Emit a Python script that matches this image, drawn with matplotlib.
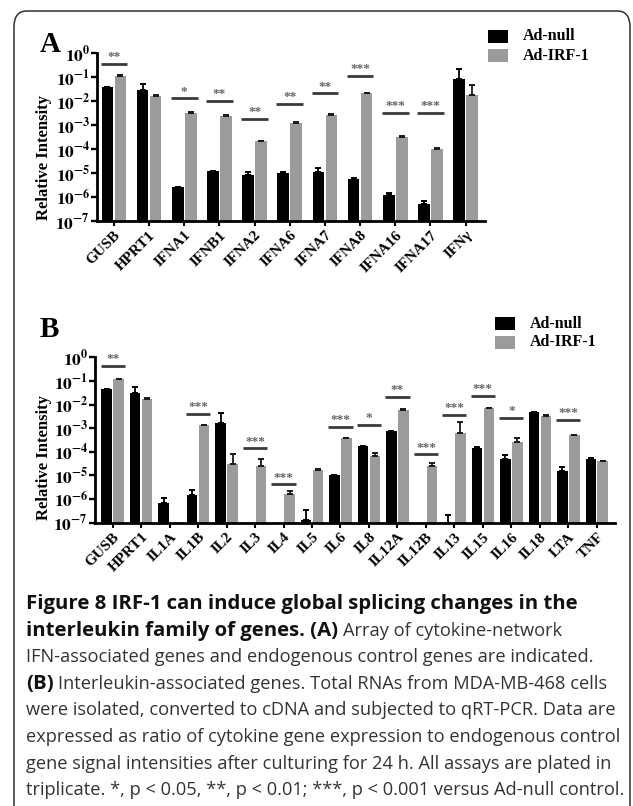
import numpy as np
import matplotlib
matplotlib.use("Agg")
import matplotlib.pyplot as plt
from matplotlib.patches import Rectangle, FancyBboxPatch

# ---------------- data ----------------
genes_a = ["GUSB", "HPRT1", "IFNA1", "IFNB1", "IFNA2", "IFNA6", "IFNA7",
           "IFNA8", "IFNA16", "IFNA17", "IFNγ"]
null_a = [0.038, 0.029, 2.6e-6, 1.2e-5, 8e-6, 1.0e-5, 1.1e-5, 5.6e-6, 1.2e-6, 5e-7, 0.083]
null_a_err = [0.002, 0.02, 1e-7, 7e-7, 3e-6, 5e-7, 5e-6, 3e-7, 3e-7, 2e-7, 0.13]
irf_a = [0.11, 0.016, 3.2e-3, 2.4e-3, 2.1e-4, 1.2e-3, 2.6e-3, 0.021, 3.2e-4, 1.0e-4, 0.018]
irf_a_err = [0.008, 0.001, 2e-4, 2e-4, 1e-5, 1e-4, 3e-4, 1.5e-3, 2e-5, 5e-6, 0.029]
sig_a_idx = [0, 2, 3, 4, 5, 6, 7, 8, 9]
sig_a_lab = ["**", "*", "**", "**", "**", "**", "***", "***", "***"]
sig_a_h = [0.35, 0.013, 0.01, 1.8e-3, 7.4e-3, 0.021, 0.11, 3.2e-3, 3.2e-3]

genes_b = ["GUSB", "HPRT1", "IL1A", "IL1B", "IL2", "IL3", "IL4", "IL5", "IL6", "IL8",
           "IL12A", "IL12B", "IL13", "IL15", "IL16", "IL18", "LTA", "TNF"]
nan = np.nan
null_b = [0.044, 0.032, 6.9e-7, 1.45e-6, 1.6e-3, nan, nan, 1.3e-7, 1.0e-5, 1.7e-4,
          7.5e-4, nan, 1.0e-7, 1.5e-4, 5.1e-5, 4.7e-3, 1.6e-5, 5.1e-5]
null_b_err = [0.002, 0.025, 3.8e-7, 9.5e-7, 2.9e-3, nan, nan, 2.3e-7, 5e-7, 5e-6,
              3e-5, nan, 1.2e-7, 5e-6, 2.1e-5, 1e-4, 6e-6, 2e-6]
irf_b = [0.12, 0.018, nan, 1.35e-3, 3.0e-5, 2.6e-5, 1.6e-6, 1.7e-5, 3.7e-4, 6.8e-5,
         5.9e-3, 2.6e-5, 6.4e-4, 6.9e-3, 2.7e-4, 3.4e-3, 5.1e-4, 3.9e-5]
irf_b_err = [0.005, 0.001, nan, 5e-5, 4.9e-5, 2.6e-5, 6e-7, 1e-6, 2e-5, 1.7e-5,
             3e-4, 8e-6, 1.2e-3, 3e-4, 1.2e-4, 1e-4, 2e-5, 2e-6]
sig_b_idx = [0, 3, 5, 6, 8, 9, 10, 11, 12, 13, 14, 16]
sig_b_lab = ["**", "***", "***", "***", "***", "*", "**", "***", "***", "***", "*", "***"]
sig_b_h = [0.43, 4e-3, 1.4e-4, 4.2e-6, 1.15e-3, 1.35e-3, 0.021, 7.9e-5, 3.7e-3, 0.023,
           2.75e-3, 2.2e-3]

series_names = ["Ad-null", "Ad-IRF-1"]
ytick_vals = [1e0, 1e-1, 1e-2, 1e-3, 1e-4, 1e-5, 1e-6, 1e-7]
ytick_labels = [r"$\mathbf{10^{0}}$", r"$\mathbf{10^{-1}}$", r"$\mathbf{10^{-2}}$",
                r"$\mathbf{10^{-3}}$", r"$\mathbf{10^{-4}}$", r"$\mathbf{10^{-5}}$",
                r"$\mathbf{10^{-6}}$", r"$\mathbf{10^{-7}}$"]

caption = [
    [("Figure 8 IRF-1 can induce global splicing changes in the", "bold")],
    [("interleukin family of genes. (A)", "bold"), ("Array of cytokine-network", "normal")],
    [("IFN-associated genes and endogenous control genes are indicated.", "normal")],
    [("(B)", "bold"), ("Interleukin-associated genes. Total RNAs from MDA-MB-468 cells", "normal")],
    [("were isolated, converted to cDNA and subjected to qRT-PCR. Data are", "normal")],
    [("expressed as ratio of cytokine gene expression to endogenous control", "normal")],
    [("gene signal intensities after culturing for 24 h. All assays are plated in", "normal")],
    [("triplicate. *, p < 0.05, **, p < 0.01; ***, p < 0.001 versus Ad-null control.", "normal")],
]

# ---------------- style ----------------
W, H = 633, 806
plt.rcParams["mathtext.fontset"] = "stix"
SERIF = ["Liberation Serif", "DejaVu Serif"]
BLACK = "#000000"
GRAY = "#9b9b9b"
SIGC = "#3a3a3a"

fig = plt.figure(figsize=(W / 100, H / 100), dpi=100)


def fx(px):
    return px / W


def fy(py):
    return 1 - py / H


def make_panel(left, right, top, bottom, genes, nv, ne, iv, ie, sidx, slab, sh,
               xlim, off, bw, letter, letter_xy, leg_xy, ylabel_y):
    ax = fig.add_axes([fx(left), fy(bottom), fx(right - left), (bottom - top) / H])
    ax.set_yscale("log")
    x = np.arange(len(genes))
    nv = np.array(nv, float); ne = np.array(ne, float)
    iv = np.array(iv, float); ie = np.array(ie, float)
    ax.bar(x - off, np.nan_to_num(nv, nan=1e-9), width=bw, bottom=1e-9, color=BLACK, zorder=2)
    ax.bar(x + off, np.nan_to_num(iv, nan=1e-9), width=bw, bottom=1e-9, color=GRAY, zorder=2)
    m = ~np.isnan(nv)
    ax.errorbar(x[m] - off, nv[m], yerr=[np.zeros(m.sum()), ne[m]], fmt="none",
                ecolor=BLACK, elinewidth=1.3, capsize=2.2, capthick=1.4, zorder=3)
    m = ~np.isnan(iv)
    ax.errorbar(x[m] + off, iv[m], yerr=[np.zeros(m.sum()), ie[m]], fmt="none",
                ecolor="#1a1a1a", elinewidth=1.3, capsize=2.2, capthick=1.4, zorder=3)
    for i, lab, h in zip(sidx, slab, sh):
        ax.plot([i - off - bw / 2 - 0.03, i + off + bw / 2 + 0.03], [h, h],
                color=SIGC, lw=2.0, solid_capstyle="butt", clip_on=False, zorder=4)
        ax.annotate(lab, xy=(i, h), xytext=(0, 0.5), textcoords="offset points",
                    ha="center", va="bottom", fontsize=9.5, color="#666666",
                    family=SERIF, fontweight="bold", annotation_clip=False)
    ax.set_ylim(1e-7, 1e0)
    ax.set_xlim(*xlim)
    ax.set_yticks(ytick_vals)
    ax.set_yticklabels(ytick_labels, fontsize=12.5)
    ax.yaxis.set_minor_locator(matplotlib.ticker.NullLocator())
    ax.set_xticks(x)
    ax.set_xticklabels(genes, rotation=45, ha="right", rotation_mode="anchor",
                       fontsize=11, fontweight="bold", family=SERIF)
    for s in ["top", "right"]:
        ax.spines[s].set_visible(False)
    for s in ["left", "bottom"]:
        ax.spines[s].set_linewidth(2.0)
    ax.tick_params(axis="y", length=4, width=1.7, pad=1.0)
    ax.tick_params(axis="x", length=3.5, width=1.5, pad=2)
    ax.patch.set_visible(False)
    fig.text(fx(letter_xy[0]), fy(letter_xy[1]), letter, fontsize=21, fontweight="bold",
             family=SERIF, ha="left", va="baseline")
    fig.text(fx(44), fy(ylabel_y), "Relative Intensity", rotation=90, fontsize=12,
             fontweight="bold", family=SERIF, ha="center", va="center")
    lx, ly = leg_xy
    for k, (name, col) in enumerate(zip(series_names, [BLACK, GRAY])):
        y0 = ly + k * 19
        fig.add_artist(Rectangle((fx(lx), fy(y0 + 13)), 20 / W, 13 / H, transform=fig.transFigure,
                                 facecolor=col, edgecolor="none"))
        fig.text(fx(lx + 35), fy(y0 + 6.5), name, fontsize=11.5, fontweight="bold",
                 family=SERIF, ha="left", va="center")
    return ax


make_panel(97, 485, 53, 221, genes_a, null_a, null_a_err, irf_a, irf_a_err,
           sig_a_idx, sig_a_lab, sig_a_h, (-0.48, 10.55), 0.185, 0.33,
           "A", (40, 52), (488, 30), 158)
make_panel(95, 615, 357.3, 522.7, genes_b, null_b, null_b_err, irf_b, irf_b_err,
           sig_b_idx, sig_b_lab, sig_b_h, (-0.62, 17.64), 0.21, 0.37,
           "B", (40, 337), (495, 317), 458)

# frame with rounded corners
fig.add_artist(FancyBboxPatch((fx(14), fy(830)), (630 - 14) / W, (830 - 11) / H,
                              boxstyle="round,pad=0,rounding_size=0.02",
                              transform=fig.transFigure, facecolor="none",
                              edgecolor="#303030", linewidth=1.1, clip_on=False))

# caption
renderer = fig.canvas.get_renderer()
CAPF = ["Open Sans", "DejaVu Sans"]


def text_width(s, size, weight):
    t = fig.text(0, 0, s, fontsize=size, family=CAPF, fontweight=weight)
    w = t.get_window_extent(renderer).width
    t.remove()
    return w


cap_left = 26
size_n = 13.0 * (618 - cap_left) / text_width(caption[5][0][0], 13.0, "normal")
size_b = 13.0 * (575 - cap_left) / text_width(caption[0][0][0], 13.0, "bold")
space = text_width("a a", size_n, "normal") - text_width("aa", size_n, "normal")

base0 = 609
step = 26.6
for li, segs in enumerate(caption):
    xpos = cap_left
    ypos = base0 + li * step
    for si, (s, wgt) in enumerate(segs):
        if si > 0:
            xpos += space
        sz = size_b if wgt == "bold" else size_n
        t = fig.text(fx(xpos), fy(ypos), s, fontsize=sz, family=CAPF, fontweight=wgt,
                     ha="left", va="baseline", color="#111111" if wgt == "bold" else "#333333")
        xpos = t.get_window_extent(renderer).x1

fig.savefig("out.png", dpi=100)
